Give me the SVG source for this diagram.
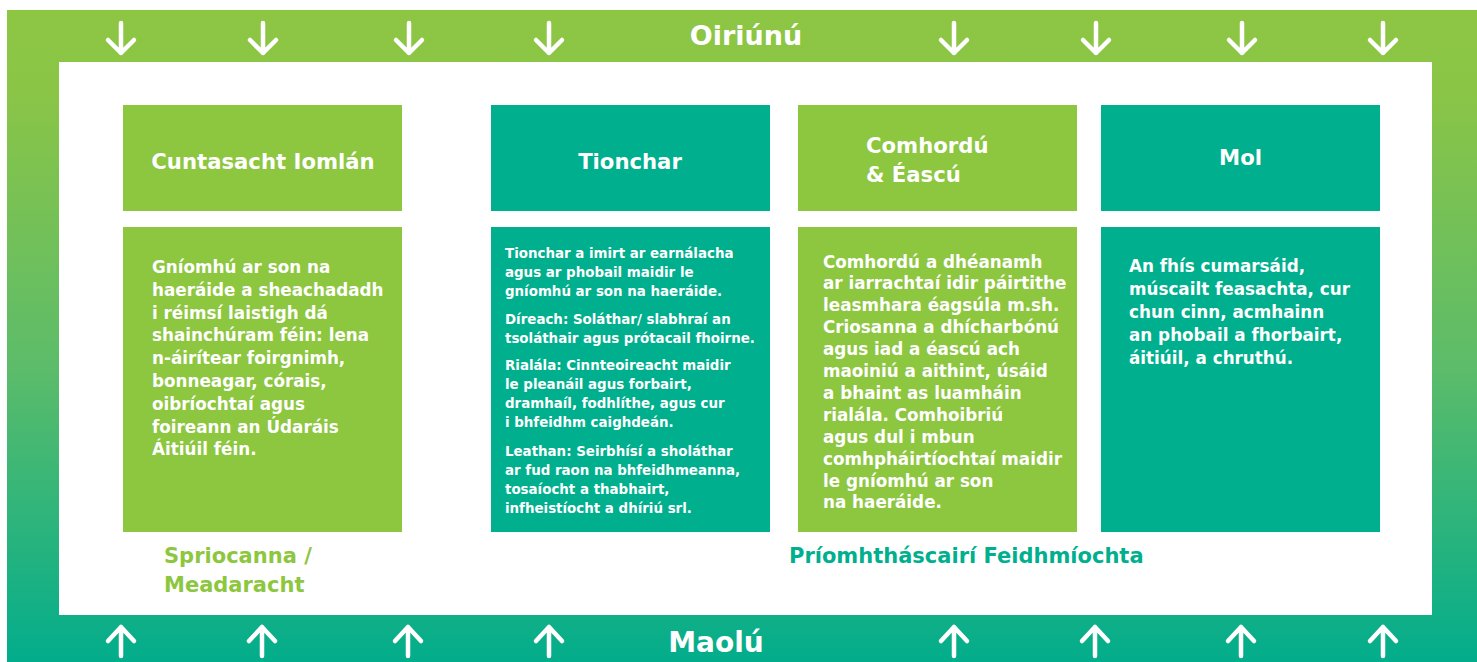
<svg xmlns="http://www.w3.org/2000/svg" xmlns:xlink="http://www.w3.org/1999/xlink" width="1477" height="662" viewBox="0 0 1477 662">
  <defs>
    <linearGradient id="frameGrad" x1="0" y1="10" x2="0" y2="662" gradientUnits="userSpaceOnUse">
      <stop offset="0" stop-color="#8DC643"/>
      <stop offset="0.12" stop-color="#8BC546"/>
      <stop offset="0.55" stop-color="#5CBC6A"/>
      <stop offset="1" stop-color="#02AD8C"/>
    </linearGradient>
    <path id="arrowDown" d="M0,-15 V15 M-13,2 L0,15 L13,2" fill="none" stroke="#fff" stroke-width="4.5" stroke-linecap="round" stroke-linejoin="round"/>
    <path id="arrowUp" d="M0,15 V-14 M-13,0 L0,-14 L13,0" fill="none" stroke="#fff" stroke-width="4.5" stroke-linecap="round" stroke-linejoin="round"/>
  </defs>
  <style>
    text { font-family: "DejaVu Sans", "Liberation Sans", sans-serif; font-weight: bold; }
    .green { fill: #8DC63F; }
    .teal { fill: #00AF8D; }
    .head { fill: #fff; font-size: 21.2px; }
    .body { fill: #fff; font-size: 16.8px; }
    .small { fill: #fff; font-size: 13.4px; }
    .band { fill: #fff; font-size: 27px; }
    .lblG { fill: #8DC63F; font-size: 21px; }
    .lblT { fill: #00AF8D; font-size: 21px; }
  </style>

  <g id="frame">
    <rect x="7" y="10" width="1470" height="652" fill="url(#frameGrad)"/>
    <rect x="59" y="62" width="1373" height="553" fill="#fff"/>
    <text class="band" x="746" y="45" text-anchor="middle">Oiriúnú</text>
    <text class="band" x="716" y="652" text-anchor="middle" style="font-size:28px">Maolú</text>
  </g>

  <g id="connectors">
    <use xlink:href="#arrowDown" x="121" y="38"/>
    <use xlink:href="#arrowDown" x="263" y="38"/>
    <use xlink:href="#arrowDown" x="409" y="38"/>
    <use xlink:href="#arrowDown" x="549" y="38"/>
    <use xlink:href="#arrowDown" x="954" y="38"/>
    <use xlink:href="#arrowDown" x="1096" y="38"/>
    <use xlink:href="#arrowDown" x="1242" y="38"/>
    <use xlink:href="#arrowDown" x="1383" y="38"/>
    <use xlink:href="#arrowUp" x="121" y="641"/>
    <use xlink:href="#arrowUp" x="262" y="641"/>
    <use xlink:href="#arrowUp" x="408" y="641"/>
    <use xlink:href="#arrowUp" x="549" y="641"/>
    <use xlink:href="#arrowUp" x="954" y="641"/>
    <use xlink:href="#arrowUp" x="1095" y="641"/>
    <use xlink:href="#arrowUp" x="1241" y="641"/>
    <use xlink:href="#arrowUp" x="1383" y="641"/>
  </g>

  <g id="node-cuntasacht">
    <rect class="green" x="123" y="105" width="279" height="106"/>
    <text class="head" x="263" y="168.5" text-anchor="middle">Cuntasacht Iomlán</text>
  </g>
  <g id="node-cuntasacht-body">
    <rect class="green" x="123" y="227" width="279" height="305"/>
    <text class="body" x="152">
      <tspan x="152" y="273">Gníomhú ar son na</tspan>
      <tspan x="152" y="295.8">haeráide a sheachadadh</tspan>
      <tspan x="152" y="318.6">i réimsí laistigh dá</tspan>
      <tspan x="152" y="341.4">shainchúram féin: lena</tspan>
      <tspan x="152" y="364.2">n-áirítear foirgnimh,</tspan>
      <tspan x="152" y="387">bonneagar, córais,</tspan>
      <tspan x="152" y="409.8">oibríochtaí agus</tspan>
      <tspan x="152" y="432.6">foireann an Údaráis</tspan>
      <tspan x="152" y="455.4">Áitiúil féin.</tspan>
    </text>
  </g>

  <g id="node-tionchar">
    <rect class="teal" x="491" y="105" width="279" height="106"/>
    <text class="head" x="630" y="168.5" text-anchor="middle">Tionchar</text>
  </g>
  <g id="node-tionchar-body">
    <rect class="teal" x="491" y="227" width="279" height="305"/>
    <text class="small" x="505">
      <tspan x="505" y="258.3">Tionchar a imirt ar earnálacha</tspan>
      <tspan x="505" y="277.3">agus ar phobail maidir le</tspan>
      <tspan x="505" y="296.3">gníomhú ar son na haeráide.</tspan>
      <tspan x="505" y="324.3">Díreach: Soláthar/ slabhraí an</tspan>
      <tspan x="505" y="343.3">tsoláthair agus prótacail fhoirne.</tspan>
      <tspan x="505" y="370.3">Rialála: Cinnteoireacht maidir</tspan>
      <tspan x="505" y="389.3">le pleanáil agus forbairt,</tspan>
      <tspan x="505" y="408.3">dramhaíl, fodhlíthe, agus cur</tspan>
      <tspan x="505" y="427.3">i bhfeidhm caighdeán.</tspan>
      <tspan x="505" y="456.3">Leathan: Seirbhísí a sholáthar</tspan>
      <tspan x="505" y="475.3">ar fud raon na bhfeidhmeanna,</tspan>
      <tspan x="505" y="494.3">tosaíocht a thabhairt,</tspan>
      <tspan x="505" y="513.3">infheistíocht a dhíriú srl.</tspan>
    </text>
  </g>

  <g id="node-comhordu">
    <rect class="green" x="798" y="105" width="279" height="106"/>
    <text class="head">
      <tspan x="866" y="152.5">Comhordú</tspan>
      <tspan x="866" y="181.5">&amp; Éascú</tspan>
    </text>
  </g>
  <g id="node-comhordu-body">
    <rect class="green" x="798" y="227" width="279" height="305"/>
    <text class="body" x="823">
      <tspan x="823" y="267.5">Comhordú a dhéanamh</tspan>
      <tspan x="823" y="289.4">ar iarrachtaí idir páirtithe</tspan>
      <tspan x="823" y="311.3">leasmhara éagsúla m.sh.</tspan>
      <tspan x="823" y="333.2">Criosanna a dhícharbónú</tspan>
      <tspan x="823" y="355.1">agus iad a éascú ach</tspan>
      <tspan x="823" y="377">maoiniú a aithint, úsáid</tspan>
      <tspan x="823" y="398.9">a bhaint as luamháin</tspan>
      <tspan x="823" y="420.8">rialála. Comhoibriú</tspan>
      <tspan x="823" y="442.7">agus dul i mbun</tspan>
      <tspan x="823" y="464.6">comhpháirtíochtaí maidir</tspan>
      <tspan x="823" y="486.5">le gníomhú ar son</tspan>
      <tspan x="823" y="508.4">na haeráide.</tspan>
    </text>
  </g>

  <g id="node-mol">
    <rect class="teal" x="1101" y="105" width="279" height="106"/>
    <text class="head" x="1240.5" y="164.5" text-anchor="middle">Mol</text>
  </g>
  <g id="node-mol-body">
    <rect class="teal" x="1101" y="227" width="279" height="305"/>
    <text class="body" x="1129">
      <tspan x="1129" y="272.3">An fhís cumarsáid,</tspan>
      <tspan x="1129" y="295.3">múscailt feasachta, cur</tspan>
      <tspan x="1129" y="318.3">chun cinn, acmhainn</tspan>
      <tspan x="1129" y="341.3">an phobail a fhorbairt,</tspan>
      <tspan x="1129" y="364.3">áitiúil, a chruthú.</tspan>
    </text>
  </g>

  <g id="label-spriocanna">
    <text class="lblG">
      <tspan x="164" y="563">Spriocanna /</tspan>
      <tspan x="164" y="592">Meadaracht</tspan>
    </text>
  </g>
  <g id="label-priomhtháscairi">
    <text class="lblT" x="789" y="563">Príomhtháscairí Feidhmíochta</text>
  </g>
</svg>
